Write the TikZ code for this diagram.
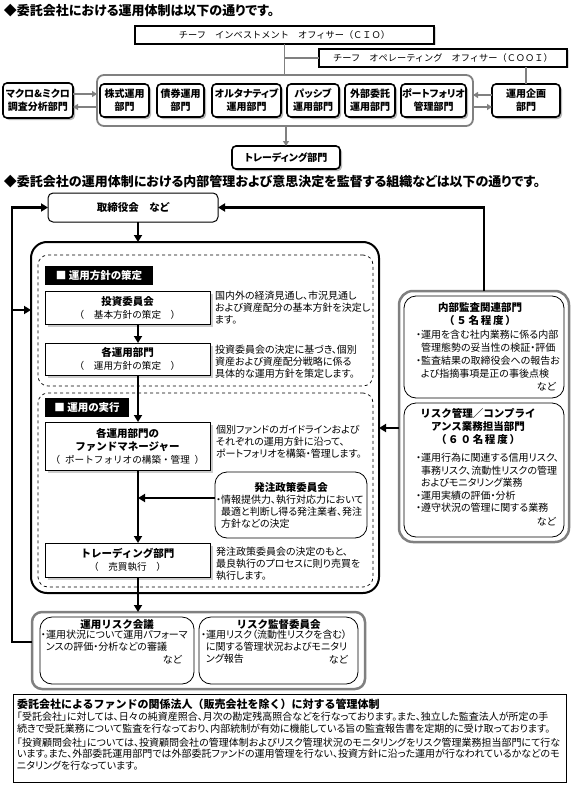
\documentclass[tikz,border=0pt]{standalone}
\usepackage{fontspec}
\setmainfont{Noto Sans CJK JP}[RawFeature=+palt]
\newfontfamily\monojp{Noto Sans CJK JP}
\usetikzlibrary{arrows.meta,shadows,positioning}
\newcommand{\boxhead}[1]{{\bfseries\fontsize{10.5}{13}\selectfont #1}}
\begin{document}
\begin{tikzpicture}[x=1pt, y=-1pt,
    every node/.style={inner sep=0pt, outer sep=0pt},
    heading/.style={anchor=west, font=\bfseries\fontsize{13}{15}\selectfont},
    officer/.style={draw, line width=1.6pt, fill=white, minimum height=18pt, font=\monojp\fontsize{9.2}{11}\selectfont, drop shadow={shadow xshift=1.5pt, shadow yshift=-1.5pt, fill=black!30}},
    dept/.style={draw, line width=1.6pt, rounded corners=4pt, fill=white, minimum height=33pt, align=center, font=\bfseries\fontsize{10}{13}\selectfont, drop shadow={shadow xshift=2pt, shadow yshift=-2pt, fill=black!55}},
    deptgroup/.style={draw=gray, line width=1.8pt, rounded corners=7pt},
    grayline/.style={draw=gray, line width=1.8pt},
    grayarrow/.style={grayline, -{Triangle[width=6pt,length=5pt]}},
    flow/.style={line width=2.4pt, -{Triangle[width=8pt,length=7pt]}},
    board/.style={draw, line width=1pt, rounded corners=5pt, fill=white, font=\bfseries\fontsize{10.5}{13}\selectfont},
    outerframe/.style={draw, line width=2pt, rounded corners=16pt, anchor=north west},
    zone/.style={draw, dashed, line width=.7pt, rounded corners=10pt, anchor=north west},
    tag/.style={fill=black, text=white, anchor=north west, minimum height=19pt, font=\bfseries\fontsize{10.5}{13}\selectfont},
    procbox/.style={draw, line width=1pt, fill=white, anchor=north west, minimum width=165pt, align=center, font=\monojp\fontsize{9.6}{13}\selectfont, drop shadow={shadow xshift=3pt, shadow yshift=-3pt, fill=black!40}},
    note/.style={anchor=north west, align=left, font=\fontsize{10}{12}\selectfont},
    sidegroup/.style={draw=gray, line width=2.5pt, rounded corners=14pt, anchor=north west},
    sidebox/.style={draw, line width=.8pt, rounded corners=12pt, fill=white, anchor=north west},
    boxtitle/.style={align=center, font=\monojp\bfseries\fontsize{10.5}{13}\selectfont}]
    \useasboundingbox (0,0) rectangle (572,792);

    \node[heading] (toptitle) at (4,11) {◆委託会社における運用体制は以下の通りです。};
    \node[officer, minimum width=299pt] (cio) at (284.5,35) {チーフ　インベストメント　オフィサー（ＣＩＯ）};
    \node[officer, minimum width=248pt] (coo) at (443,58) {チーフ　オペレーティング　オフィサー（ＣＯＯＩ）};

    \node[deptgroup, minimum width=376pt, minimum height=51pt] (depts) at (285,100.5) {};
    \node[dept, minimum width=49pt] (equity) at (124.5,100.5) {株式運用\\部門};
    \node[dept, minimum width=47pt] (bond) at (180.5,100.5) {債券運用\\部門};
    \node[dept, minimum width=69pt] (altern) at (246.5,100.5) {オルタナティブ\\運用部門};
    \node[dept, minimum width=52pt] (passive) at (313,100.5) {パッシブ\\運用部門};
    \node[dept, minimum width=50pt] (external) at (370,100.5) {外部委託\\運用部門};
    \node[dept, minimum width=65pt] (portfolio) at (433.5,100.5) {ポートフォリオ\\管理部門};
    \node[dept, minimum width=70pt, minimum height=35pt] (research) at (38,100.5) {マクロ\&ミクロ\\調査分析部門};
    \node[dept, minimum width=68pt] (planning) at (526,100.5) {運用企画\\部門};
    \node[dept, minimum width=108pt, minimum height=23pt] (trading) at (286,157.5) {トレーディング部門};

    \draw[grayline] (cio.south) -- (cio.south |- depts.north);
    \draw[grayline] (cio.south |- coo.west) -- (coo.west);
    \draw[grayline] (planning.north |- coo.south) -- (planning.north);
    \draw[grayarrow] (trading.north |- depts.south) -- (trading.north);
    \draw[grayarrow] ([yshift=6.5pt]research.east) -- ([yshift=6.5pt]depts.west);
    \draw[grayarrow] ([yshift=-6.5pt]depts.west) -- ([yshift=-6.5pt]research.east);
    \draw[grayarrow] ([yshift=5.5pt]planning.west) -- ([yshift=5.5pt]depts.east);
    \draw[grayarrow] ([yshift=-6.5pt]depts.east) -- ([yshift=-6.5pt]planning.west);

    \node[heading] (midtitle) at (4,182) {◆委託会社の運用体制における内部管理および意思決定を監督する組織などは以下の通りです。};
    \node[board, minimum width=170pt, minimum height=29pt] (board) at (133,207.5) {取締役会　など};

    \node[outerframe, minimum width=348pt, minimum height=351pt] (mainframe) at (31,242) {};
    \node[zone, minimum width=335pt, minimum height=131pt] (planzone) at (38,255) {};
    \node[zone, minimum width=335pt, minimum height=194pt] (execzone) at (38,393) {};
    \node[tag, minimum width=108pt] (plantag) at (45,266) {■\ 運用方針の策定};
    \node[tag, minimum width=84pt] (exectag) at (45,398) {■\ 運用の実行};

    \node[procbox, minimum height=33pt] (invest) at (45,291) {\boxhead{投資委員会}\\（　基本方針の策定　）};
    \node[procbox, minimum height=32pt] (deptplan) at (45,343) {\boxhead{各運用部門}\\（　運用方針の策定　）};
    \node[procbox, minimum height=48pt] (manager) at (45,422) {\boxhead{各運用部門の}\\\boxhead{ファンドマネージャー}\\（\enspace ポートフォリオの構築・管理\enspace ）};
    \node[procbox, minimum height=34pt] (trader) at (45,543) {\boxhead{トレーディング部門}\\（　売買執行　）};

    \node[note] (investnote) at (215,291) {国内外の経済見通し、市況見通し\\および資産配分の基本方針を決定し\\ます。};
    \node[note] (deptplannote) at (215,345) {投資委員会の決定に基づき、個別\\資産および資産配分戦略に係る\\具体的な運用方針を策定します。};
    \node[note] (managernote) at (216,425) {個別ファンドのガイドラインおよび\\それぞれの運用方針に沿って、\\ポートフォリオを構築・管理します。};
    \node[note] (tradernote) at (216,547) {発注政策委員会の決定のもと、\\最良執行のプロセスに則り売買を\\執行します。};

    \node[sidebox, minimum width=152pt, minimum height=66pt] (ordercom) at (215,472) {};
    \node[boxtitle] (ordertitle) at (291,487) {発注政策委員会};
    \node[note] (ordernote) at (216,495) {・情報提供力、執行対応力において\\\phantom{・}最適と判断し得る発注業者、発注\\\phantom{・}方針などの決定};

    \node[sidegroup, minimum width=170pt, minimum height=251pt] (watchgrp) at (399,291) {};
    \node[sidebox, minimum width=160pt, minimum height=102pt] (audit) at (404,296) {};
    \node[sidebox, minimum width=160pt, minimum height=134pt] (riskmgmt) at (404,403) {};
    \node[boxtitle] (audittitle) at (480,314.5) {内部監査関連部門\\（\,５\,名\,程\,度\,）};
    \node[note, font=\fontsize{10}{13}\selectfont] (auditnote) at (416,330) {・運用を含む社内業務に係る内部\\\phantom{・}管理態勢の妥当性の検証・評価\\・監査結果の取締役会への報告お\\\phantom{・}よび指摘事項是正の事後点検};
    \node[note, anchor=east] (audittail) at (556,387) {など};
    \node[boxtitle] (riskmgmttitle) at (478,426) {リスク管理／コンプライ\\アンス業務担当部門\\（\,６\,０\,名\,程\,度\,）};
    \node[note, font=\fontsize{10}{12.6}\selectfont] (riskmgmtnote) at (416,453) {・運用行為に関連する信用リスク、\\\phantom{・}事務リスク、流動性リスクの管理\\\phantom{・}およびモニタリング業務\\・運用実績の評価・分析\\・遵守状況の管理に関する業務};
    \node[note, anchor=east] (riskmgmttail) at (556,522) {など};

    \node[sidegroup, rounded corners=10pt, minimum width=333pt, minimum height=77pt] (riskgrp) at (32,612) {};
    \node[sidebox, minimum width=154pt, minimum height=67pt] (oprisk) at (40,617) {};
    \node[sidebox, minimum width=159pt, minimum height=67pt] (riskboard) at (199,617) {};
    \node[boxtitle] (opristitle) at (117,625) {運用リスク会議};
    \node[boxtitle] (riskboardtitle) at (278.5,625) {リスク監督委員会};
    \node[note] (opristnote) at (41,630) {・運用状況について運用パフォーマ\\\phantom{・}ンスの評価・分析などの審議};
    \node[note, anchor=east] (opristail) at (182,660) {など};
    \node[note] (riskboardnote) at (201,630) {・運用リスク（流動性リスクを含む）\\\phantom{・}に関する管理状況およびモニタリ\\\phantom{・}ング報告};
    \node[note, anchor=east] (riskboardtail) at (348,660) {など};

    \coordinate (spine) at (138,0);
    \coordinate (orderin) at (215,498);
    \coordinate (riskout) at (399,428);
    \coordinate (feedback) at (12,642);
    \coordinate (frameback) at (12,310);

    \draw[flow] (spine |- board.south) -- (spine |- mainframe.north);
    \draw[flow] (spine |- invest.south) -- (spine |- deptplan.north);
    \draw[flow] (spine |- deptplan.south) -- (spine |- manager.north);
    \draw[flow] (spine |- manager.south) -- (spine |- trader.north);
    \draw[flow] (orderin) -- (spine |- orderin);
    \draw[flow] (spine |- trader.south) -- (spine |- riskgrp.north);
    \draw[flow] (watchgrp.north) |- (board.east);
    \draw[flow] (riskout) -- (riskout -| mainframe.east);
    \draw[flow] (riskgrp.west |- feedback) -- (feedback) |- (board.west);
    \draw[flow] (frameback) -- (frameback -| mainframe.west);

    \node[draw, line width=.8pt, anchor=north west, minimum width=553pt, minimum height=88pt] (mgmtbox) at (13,694) {};
    \node[anchor=west, font=\monojp\bfseries\fontsize{11}{13}\selectfont] (mgmttitle) at (17,704) {委託会社によるファンドの関係法人（販売会社を除く）に対する管理体制};
    \node[note, font=\fontsize{10}{11.5}\selectfont] (trusteenote) at (17,712) {「受託会社」に対しては、日々の純資産照合、月次の勘定残高照合などを行なっております。また、独立した監査法人が所定の手\\続きで受託業務について監査を行なっており、内部統制が有効に機能している旨の監査報告書を定期的に受け取っております。};
    \node[note, font=\fontsize{10}{11.5}\selectfont] (advisernote) at (17,738) {「投資顧問会社」については、投資顧問会社の管理体制およびリスク管理状況のモニタリングをリスク管理業務担当部門にて行な\\います。また、外部委託運用部門では外部委託ファンドの運用管理を行ない、投資方針に沿った運用が行なわれているかなどのモ\\ニタリングを行なっています。};
\end{tikzpicture}
\end{document}
